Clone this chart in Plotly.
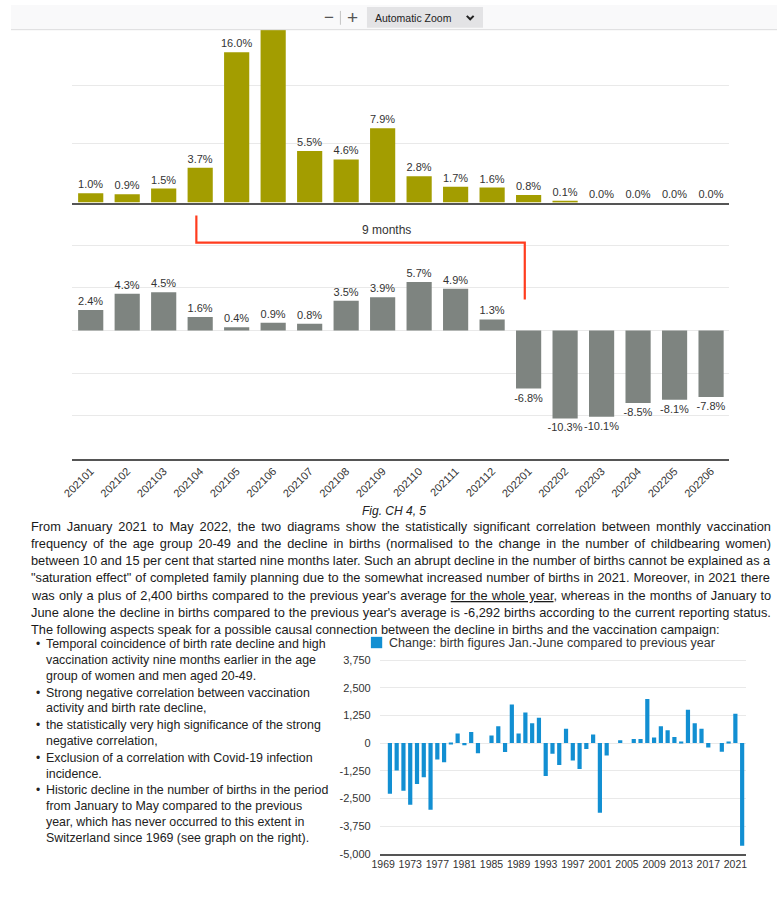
import plotly.graph_objects as go

W, H = 779, 918

# ---------------- data ----------------
months = ["202101", "202102", "202103", "202104", "202105", "202106",
          "202107", "202108", "202109", "202110", "202111", "202112",
          "202201", "202202", "202203", "202204", "202205", "202206"]
vacc_pct = [1.0, 0.9, 1.5, 3.7, 16.0, 20.3, 5.5, 4.6, 7.9, 2.8, 1.7, 1.6,
            0.8, 0.1, 0.0, 0.0, 0.0, 0.0]
birth_pct = [2.4, 4.3, 4.5, 1.6, 0.4, 0.9, 0.8, 3.5, 3.9, 5.7, 4.9, 1.3,
             -6.8, -10.3, -10.1, -8.5, -8.1, -7.8]

years = list(range(1969, 2023))
birth_change = [None, -2290, -1240, -2160, -2790, -1850, -1550, -3020, -740, -870,
                -70, 430, -100, 500, -460, 0, 340, 760, -400, 1740,
                430, 1380, 890, 1140, -1490, -490, -990, 640, -790, -1170,
                -270, 390, -3150, -560, 0, 120, 0, 180, 180, 1990,
                250, 760, 580, 270, 70, 1500, 890, 650, -200, 0,
                -390, 70, 1320, -4640]
year_ticks = list(range(1969, 2022, 4))
y3_ticks = [3750, 2500, 1250, 0, -1250, -2500, -3750, -5000]
y3_labels = ["3,750", "2,500", "1,250", "0", "-1,250", "-2,500", "-3,750", "-5,000"]

legend_label = "Change: birth figures Jan.-June compared to previous year"
fig_caption = "Fig. CH 4, 5"
paragraph = [
    "From January 2021 to May 2022, the two diagrams show the statistically significant correlation between monthly vaccination",
    "frequency of the age group 20-49 and the decline in births (normalised to the change in the number of childbearing women)",
    "between 10 and 15 per cent that started nine months later. Such an abrupt decline in the number of births cannot be explained as a",
    "\"saturation effect\" of completed family planning due to the somewhat increased number of births in 2021. Moreover, in 2021 there",
    "was only a plus of 2,400 births compared to the previous year's average <u>for the whole year</u>, whereas in the months of January to",
    "June alone the decline in births compared to the previous year's average is -6,292 births according to the current reporting status.",
    "The following aspects speak for a possible causal connection between the decline in births and the vaccination campaign:",
]
bullets = [
    ["Temporal coincidence of birth rate decline and high",
     "vaccination activity nine months earlier in the age",
     "group of women and men aged 20-49."],
    ["Strong negative correlation between vaccination",
     "activity and birth rate decline,"],
    ["the statistically very high significance of the strong",
     "negative correlation,"],
    ["Exclusion of a correlation with Covid-19 infection",
     "incidence."],
    ["Historic decline in the number of births in the period",
     "from January to May compared to the previous",
     "year, which has never occurred to this extent in",
     "Switzerland since 1969 (see graph on the right)."],
]

# ---------------- helpers ----------------
def px(x):
    return x / W

def py(y):
    return 1 - y / H

# approximate Arial / Liberation Sans advance widths (per 1000 em)
AW = {' ': 278, '!': 278, '"': 355, "'": 191, '(': 333, ')': 333, ',': 278, '-': 333,
      '.': 278, '/': 278, ':': 278, ';': 278, '?': 556, '%': 889,
      'A': 667, 'B': 667, 'C': 722, 'D': 722, 'E': 667, 'F': 611, 'G': 778, 'H': 722,
      'I': 278, 'J': 500, 'K': 667, 'L': 556, 'M': 833, 'N': 722, 'O': 778, 'P': 667,
      'Q': 778, 'R': 722, 'S': 667, 'T': 611, 'U': 722, 'V': 667, 'W': 944, 'X': 667,
      'Y': 667, 'Z': 611, 'a': 556, 'b': 556, 'c': 500, 'd': 556, 'e': 556, 'f': 278,
      'g': 556, 'h': 556, 'i': 222, 'j': 222, 'k': 500, 'l': 222, 'm': 833, 'n': 556,
      'o': 556, 'p': 556, 'q': 556, 'r': 333, 's': 500, 't': 278, 'u': 556, 'v': 500,
      'w': 722, 'x': 500, 'y': 500, 'z': 500}

def text_width(s, size):
    plain = s.replace("<u>", "").replace("</u>", "")
    return sum(AW.get(c, 556) for c in plain) / 1000.0 * size

FONT = "Liberation Sans, Arial, Helvetica, sans-serif"
TXT = "#333333"
OLIVE = "#a39d00"
GREY = "#7e8480"
BLUE = "#128fd2"

# label of the bar that runs under the viewer toolbar is not visible
vacc_text = [f"{v:.1f}%" for v in vacc_pct]
vacc_text[5] = ""

fig = go.Figure()

fig.add_trace(go.Bar(
    x=months, y=vacc_pct, xaxis="x", yaxis="y",
    marker=dict(color=OLIVE, line=dict(width=0)),
    text=vacc_text, textposition="outside", constraintext="none",
    textfont=dict(size=11, color=TXT, family=FONT),
    cliponaxis=True, showlegend=False, hoverinfo="skip"))

fig.add_trace(go.Bar(
    x=months, y=birth_pct, xaxis="x2", yaxis="y2",
    marker=dict(color=GREY, line=dict(width=0)),
    text=[f"{v:.1f}%" for v in birth_pct], textposition="outside",
    constraintext="none",
    textfont=dict(size=11, color=TXT, family=FONT),
    cliponaxis=False, showlegend=False, hoverinfo="skip"))

fig.add_trace(go.Bar(
    x=years, y=birth_change, xaxis="x3", yaxis="y3", width=0.62,
    marker=dict(color=BLUE, line=dict(width=0)),
    name=legend_label, showlegend=False, hoverinfo="skip"))

top_dom = [py(200), py(25)]
mid_dom = [py(459), py(200)]
xdom = [px(62.5), px(730.5)]

fig.update_layout(
    width=W, height=H, autosize=False,
    margin=dict(l=0, r=0, t=0, b=0),
    paper_bgcolor="white", plot_bgcolor="white",
    font=dict(family=FONT, color=TXT),
    bargap=0.31,
    xaxis=dict(domain=xdom, anchor="y", showticklabels=False, ticks="",
               showline=True, linecolor="#555555", linewidth=2,
               showgrid=False),
    yaxis=dict(domain=top_dom, anchor="x", range=[0, 18.4], dtick=6.25,
               showticklabels=False, showgrid=True, gridcolor="#e9e9e9",
               zeroline=False, showline=False),
    xaxis2=dict(domain=xdom, anchor="y2", showticklabels=True, ticks="",
                tickangle=-45, tickfont=dict(size=11, color=TXT),
                showline=True, linecolor="#555555", linewidth=2,
                showgrid=False),
    yaxis2=dict(domain=mid_dom, anchor="x2", range=[-15, 15], dtick=5,
                showticklabels=False, showgrid=True, gridcolor="#e9e9e9",
                zeroline=False, showline=False),
    xaxis3=dict(domain=[px(375), px(747)], anchor="y3", range=[1968.5, 2022.5],
                tickvals=year_ticks, ticks="", tickfont=dict(size=10.5, color=TXT),
                showline=True, linecolor="#555555", linewidth=2,
                showgrid=False, zeroline=False),
    yaxis3=dict(domain=[py(859), py(661.4)], anchor="x3", range=[-5000, 3820],
                tickvals=y3_ticks, ticktext=y3_labels, ticks="",
                ticklabelstandoff=8,
                tickfont=dict(size=11, color=TXT),
                showgrid=True, gridcolor="#e9e9e9", zeroline=False, showline=False),
)

shapes = []
annotations = []

# legend of the lower chart
shapes.append(dict(type="rect", xref="paper", yref="paper",
                   x0=px(366), x1=px(377.5), y0=py(651), y1=py(639.5),
                   fillcolor=BLUE, line=dict(width=0)))
annotations.append(dict(xref="paper", yref="paper", x=px(382), y=py(645.5),
                        xanchor="left", yanchor="middle", text=legend_label,
                        showarrow=False, font=dict(size=12.5, color=TXT)))

# "9 months" bracket
shapes.append(dict(
    type="path", xref="paper", yref="paper",
    path=(f"M {px(188.5)},{py(213)} L {px(188.5)},{py(240.5)} "
          f"L {px(522.5)},{py(240.5)} L {px(522.5)},{py(298)}"),
    line=dict(color="#ff3c1e", width=2.2)))
annotations.append(dict(xref="paper", yref="paper", x=px(382), y=py(228),
                        xanchor="center", yanchor="middle",
                        text="9 months", showarrow=False,
                        font=dict(size=12, color=TXT)))

# PDF viewer toolbar
shapes.append(dict(type="rect", xref="paper", yref="paper", x0=0, x1=1,
                   y0=py(25), y1=1, fillcolor="#f9f9fa", line=dict(width=0),
                   layer="above"))
shapes.append(dict(type="line", xref="paper", yref="paper", x0=0, x1=1,
                   y0=py(25), y1=py(25), line=dict(color="#dcdcdc", width=1),
                   layer="above"))
shapes.append(dict(type="rect", xref="paper", yref="paper", x0=px(362), x1=px(480),
                   y0=py(23), y1=py(2), fillcolor="#e3e3e5", line=dict(width=0),
                   layer="above"))
shapes.append(dict(type="line", xref="paper", yref="paper", x0=px(335), x1=px(335),
                   y0=py(6), y1=py(20), line=dict(color="#c4c4c4", width=1),
                   layer="above"))
shapes.append(dict(type="path", xref="paper", yref="paper", layer="above",
                   path=f"M {px(463.5)},{py(11)} L {px(467)},{py(14.5)} L {px(470.5)},{py(11)}",
                   line=dict(color="#222222", width=2)))
annotations.append(dict(xref="paper", yref="paper", x=px(323), y=py(13),
                        xanchor="center", yanchor="middle",
                        text="−", showarrow=False, font=dict(size=17, color="#555")))
annotations.append(dict(xref="paper", yref="paper", x=px(347), y=py(13),
                        xanchor="center", yanchor="middle",
                        text="+", showarrow=False, font=dict(size=19, color="#555")))
annotations.append(dict(xref="paper", yref="paper", x=px(368), y=py(13),
                        xanchor="left", yanchor="middle", text="Automatic Zoom",
                        showarrow=False, font=dict(size=10.5, color="#222")))

# caption
annotations.append(dict(xref="paper", yref="paper", x=px(389), y=py(512),
                        xanchor="center", yanchor="middle",
                        text=f"<i>{fig_caption}</i>", showarrow=False,
                        font=dict(size=12, color="#222")))

# paragraph lines (justified, except the last)
PSIZE = 12.8
TARGET = 740.0
for i, line in enumerate(paragraph):
    txt = line
    if i < len(paragraph) - 1:
        n_sp = line.count(" ")
        ws = (TARGET - text_width(line, PSIZE)) / max(n_sp, 1)
        ws = max(min(ws, 6.0), -1.0)
        txt = f"<span style='word-spacing:{ws:.2f}px'>{line}</span>"
    annotations.append(dict(xref="paper", yref="paper", x=px(18), y=py(528 + i * 17.3),
                            xanchor="left", yanchor="middle", text=txt,
                            showarrow=False, font=dict(size=PSIZE, color="#1a1a1a")))

# bullet list
yy = 647
for group in bullets:
    for j, line in enumerate(group):
        if j == 0:
            annotations.append(dict(xref="paper", yref="paper", x=px(23), y=py(yy),
                                    xanchor="left", yanchor="middle", text="•",
                                    showarrow=False, font=dict(size=12, color="#222")))
        annotations.append(dict(xref="paper", yref="paper", x=px(34), y=py(yy),
                                xanchor="left", yanchor="middle", text=line,
                                showarrow=False, font=dict(size=12.4, color="#222")))
        yy += 16
    yy += 1

fig.update_layout(shapes=shapes, annotations=annotations)

fig.write_html("out.html", config={"displayModeBar": False},
               post_script="document.body.style.margin='0';")
